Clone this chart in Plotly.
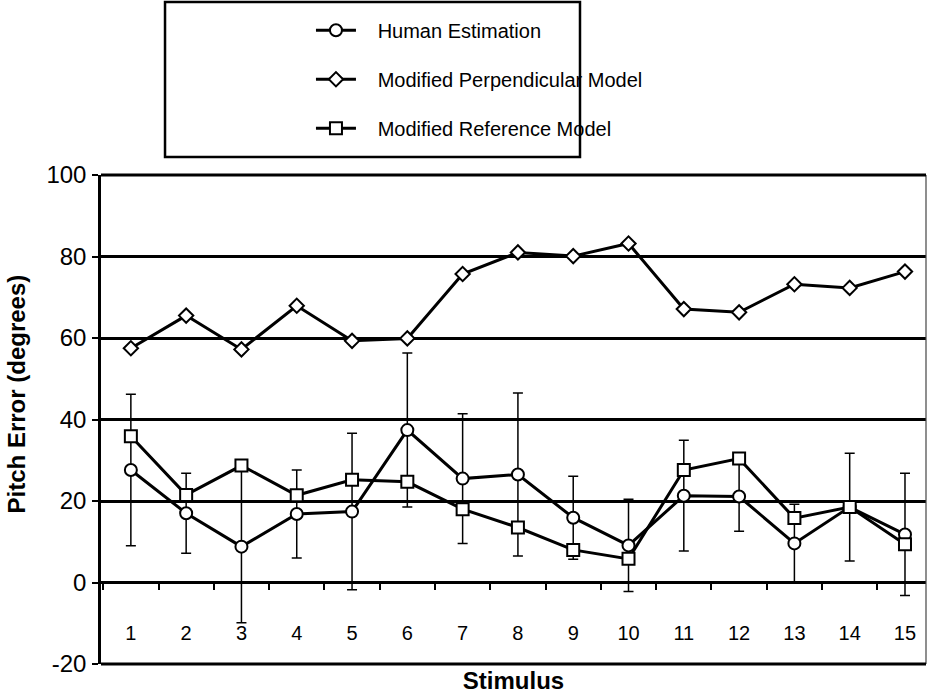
import plotly.graph_objects as go

stimulus = [str(i) for i in range(1, 16)]

human = [27.6, 17.0, 8.8, 16.8, 17.4, 37.4, 25.5, 26.5, 15.9, 9.1, 21.3, 21.1, 9.6, 18.5, 11.8]
human_err = [18.6, 9.8, 18.7, 10.8, 19.2, 18.9, 15.9, 20.0, 10.2, 11.3, 13.6, 8.5, 9.6, 13.2, 15.0]
perpendicular = [57.5, 65.5, 57.2, 67.9, 59.3, 59.9, 75.7, 81.0, 80.1, 83.2, 67.1, 66.3, 73.2, 72.3, 76.3]
reference = [35.9, 21.5, 28.7, 21.4, 25.2, 24.7, 18.0, 13.5, 8.0, 5.8, 27.6, 30.4, 15.8, 18.5, 9.4]

y_ticks = [-20, 0, 20, 40, 60, 80, 100]
y_tick_text = ["-20", "0", "20", "40", "60", "80", "100"]

FONT = "Liberation Sans, Arial, sans-serif"
PAD = "\u00a0\u00a0\u00a0"

fig = go.Figure()

fig.add_trace(go.Scatter(
    x=stimulus, y=human, name=PAD + "Human Estimation", legendgroup="a",
    mode="lines+markers",
    line=dict(color="black", width=3),
    marker=dict(symbol="circle", size=12, color="white", line=dict(color="black", width=2)),
    error_y=dict(type="data", array=human_err, visible=True, color="black", thickness=1.5, width=5),
))
fig.add_trace(go.Scatter(
    x=stimulus, y=perpendicular, name=PAD + "Modified Perpendicular Model", legendgroup="b",
    mode="lines+markers",
    line=dict(color="black", width=3),
    marker=dict(symbol="diamond", size=11, color="white", line=dict(color="black", width=2)),
))
fig.add_trace(go.Scatter(
    x=stimulus, y=reference, name=PAD + "Modified Reference Model", legendgroup="c",
    mode="lines+markers",
    line=dict(color="black", width=3),
    marker=dict(symbol="square", size=12, color="white", line=dict(color="black", width=2)),
))

fig.update_layout(
    width=928, height=694,
    margin=dict(l=101, r=2, t=175, b=30, autoexpand=False),
    paper_bgcolor="white", plot_bgcolor="white",
    font=dict(family=FONT, color="black"),
    showlegend=True,
    legend=dict(
        x=0.2545, y=1.336, xanchor="left", yanchor="top",
        bgcolor="rgba(0,0,0,0)", borderwidth=0,
        font=dict(size=20, family=FONT, color="black"),
        tracegroupgap=20, itemwidth=40,
    ),
    xaxis=dict(
        type="category", range=[-0.54, 14.38], automargin=False,
        anchor="free", position=1/6,
        showline=False, showgrid=False, zeroline=False,
        ticks="outside", tickson="boundaries", ticklen=6, tickwidth=2, tickcolor="black",
        tickfont=dict(size=20, family=FONT), ticklabelstandoff=36,
        title=dict(text="<b>Stimulus</b>", font=dict(size=24, family=FONT), standoff=34),
    ),
    yaxis=dict(
        range=[-20, 100], tickvals=y_ticks, ticktext=y_tick_text, domain=[0, 1],
        automargin=False,
        showline=True, linecolor="black", linewidth=2.5,
        showgrid=True, gridcolor="black", gridwidth=3,
        zeroline=False,
        ticks="outside", ticklen=6, tickwidth=2, tickcolor="black",
        tickfont=dict(size=24, family=FONT), ticklabelstandoff=1,
    ),
    annotations=[
        dict(text="<b>Pitch Error (degrees)</b>", textangle=-90,
             xref="paper", yref="paper", x=-0.102, y=0.553,
             xanchor="center", yanchor="middle", showarrow=False,
             font=dict(size=24, family=FONT, color="black")),
    ],
    shapes=[
        dict(type="rect", xref="paper", yref="paper", x0=0.0776, x1=0.5806, y0=1.0368, y1=1.3538,
             line=dict(color="black", width=2.5), fillcolor="rgba(0,0,0,0)", layer="above"),
        dict(type="line", xref="paper", yref="paper", x0=1, x1=1, y0=0, y1=1,
             line=dict(color="#444444", width=1.2)),
        dict(type="line", xref="paper", yref="paper", x0=0, x1=1, y0=1, y1=1,
             line=dict(color="black", width=3)),
        dict(type="line", xref="paper", yref="paper", x0=0, x1=1, y0=0, y1=0,
             line=dict(color="black", width=3)),
    ],
)

fig.write_html(
    "out.html",
    config={"displayModeBar": False},
    post_script="document.body.style.margin='0';document.body.style.overflow='hidden';",
)
